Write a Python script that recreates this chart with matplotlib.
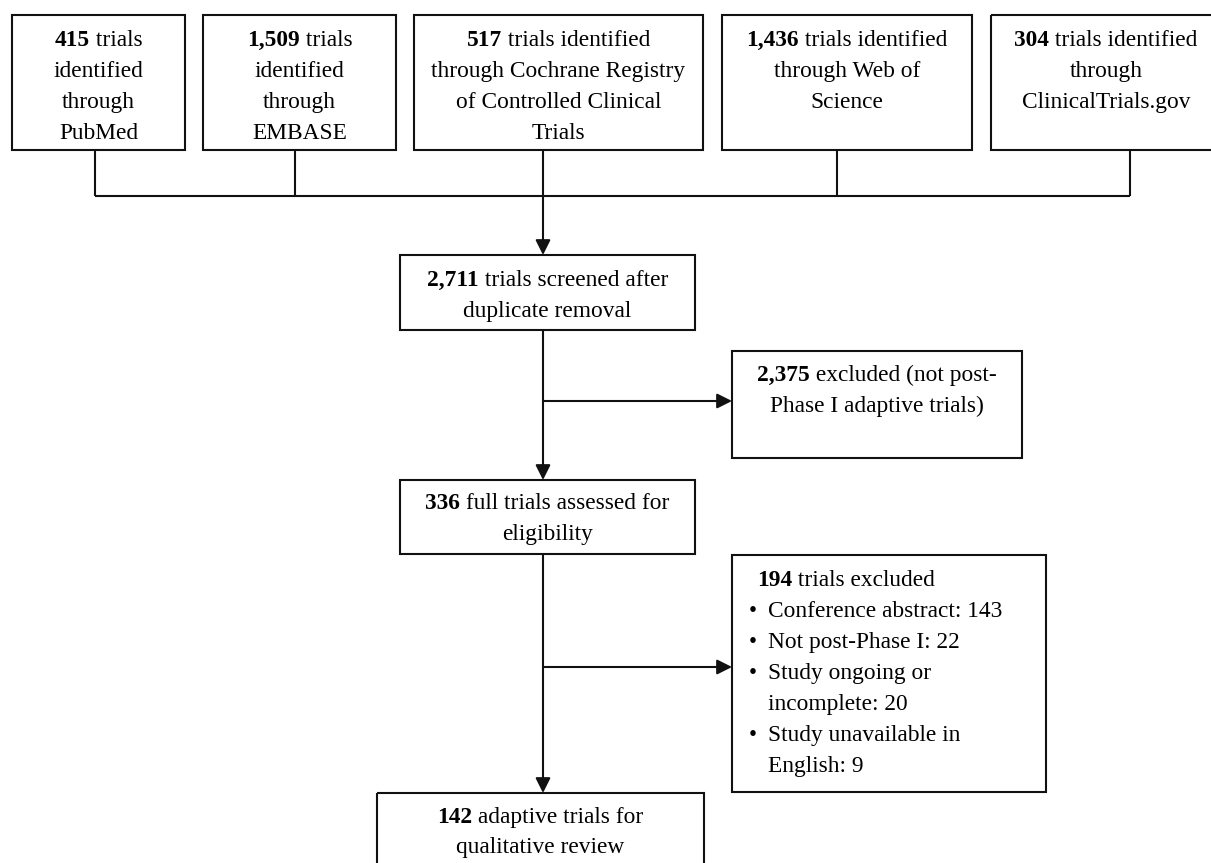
import matplotlib
matplotlib.use("Agg")
from matplotlib import pyplot as plt
from matplotlib.patches import Rectangle

plt.rcParams["font.family"] = "Liberation Serif"
FS = 16.8

# counts shown in the flow chart
source_counts = ["415", "1,509", "517", "1,436", "304"]
source_text = [
    [" trials", "identified", "through", "PubMed"],
    [" trials", "identified", "through", "EMBASE"],
    [" trials identified", "through Cochrane Registry", "of Controlled Clinical", "Trials"],
    [" trials identified", "through Web of", "Science"],
    [" trials identified", "through", "ClinicalTrials.gov"],
]
screened_n, screened_text = "2,711", [" trials screened after", "duplicate removal"]
excl1_n, excl1_text = "2,375", [" excluded (not post-", "Phase I adaptive trials)"]
full_n, full_text = "336", [" full trials assessed for", "eligibility"]
excl2_n, excl2_head = "194", " trials excluded"
excl2_items = [
    ["Conference abstract: 143"],
    ["Not post-Phase I: 22"],
    ["Study ongoing or", "incomplete: 20"],
    ["Study unavailable in", "English: 9"],
]
final_n, final_text = "142", [" adaptive trials for", "qualitative review"]

fig = plt.figure(figsize=(12.11, 8.63), dpi=100)
ax = fig.add_axes([0, 0, 1, 1])
ax.set_xlim(0, 1211)
ax.set_ylim(863, 0)
ax.axis("off")
renderer = fig.canvas.get_renderer()
LW = 1.5


def box(x0, y0, x1, y1):
    ax.add_patch(Rectangle((x0, y0), x1 - x0, y1 - y0, fill=False,
                           lw=LW, ec="#111111", clip_on=False))


def line(xs, ys):
    ax.plot(xs, ys, color="#111111", lw=LW, solid_capstyle="butt", clip_on=False)


def arrow(x0, y0, x1, y1):
    ax.annotate("", xy=(x1, y1), xytext=(x0, y0),
                arrowprops=dict(arrowstyle="-|>,head_length=0.6,head_width=0.3",
                                mutation_scale=15, color="#111111", lw=LW,
                                shrinkA=0, shrinkB=0))


def write(segs, x, y, align="center"):
    # segs: list of (text, bold)
    objs = [ax.text(0, y, s, fontsize=FS, fontweight="bold" if b else "normal",
                    va="baseline", ha="left") for s, b in segs]
    widths = [o.get_window_extent(renderer).width for o in objs]
    start = x - sum(widths) / 2 if align == "center" else x
    for o, w in zip(objs, widths):
        o.set_x(start)
        start += w


def block(num, lines, cx, top, step=31):
    y = top
    for i, t in enumerate(lines):
        segs = [(num, True), (t, False)] if i == 0 else [(t, False)]
        write(segs, cx, y)
        y += step


# top row of sources
src_boxes = [(12, 185), (203, 396), (414, 703), (722, 972), (991, 1221)]
drops = [95, 295, 543, 837, 1130]
for (x0, x1), n, t, d in zip(src_boxes, source_counts, source_text, drops):
    box(x0, 15, x1, 150)
    block(n, t, (x0 + x1) / 2, 46)
    line([d, d], [150, 196])
line([drops[0], drops[-1]], [196, 196])
arrow(543, 196, 543, 255)

# screened
box(400, 255, 695, 330)
block(screened_n, screened_text, 547.5, 286)
line([543, 543], [330, 401])
arrow(543, 401, 543, 480)
arrow(543, 401, 732, 401)
box(732, 351, 1022, 458)
block(excl1_n, excl1_text, 877, 381)

# full text
box(400, 480, 695, 554)
block(full_n, full_text, 547.5, 509)
line([543, 543], [554, 667])
arrow(543, 667, 543, 793)
arrow(543, 667, 732, 667)
box(732, 555, 1046, 792)
write([(excl2_n, True), (excl2_head, False)], 757, 586, align="left")
y = 617
for item in excl2_items:
    ax.text(749, y, "\u2022", fontsize=FS, va="baseline", ha="left")
    for t in item:
        write([(t, False)], 768, y, align="left")
        y += 31

# final
box(377, 793, 704, 900)
block(final_n, final_text, 540.5, 823, step=30)

fig.savefig("out.png", dpi=100)
